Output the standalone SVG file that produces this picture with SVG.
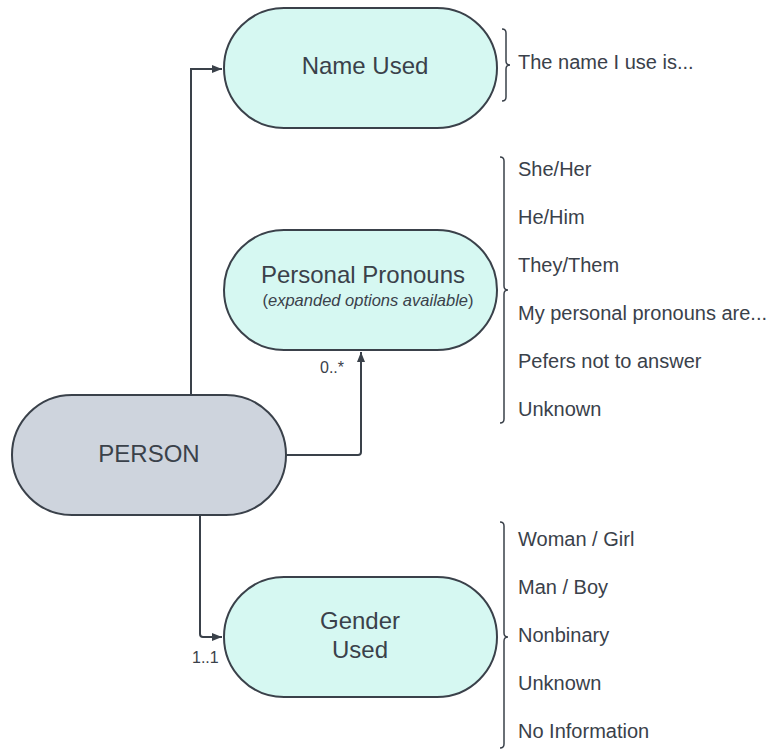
<svg xmlns="http://www.w3.org/2000/svg" width="767" height="751" viewBox="0 0 767 751">
<style>
.node{stroke:#3a414a;stroke-width:2}
.teal{fill:#d6f8f2}
.grey{fill:#ced4dd}
.t{font-family:"Liberation Sans",Arial,sans-serif;fill:#3a414a}
.big{font-size:24px;text-anchor:middle}
.item{font-size:20px}
.lbl{font-size:16px}
.conn{fill:none;stroke:#3a414a;stroke-width:2}
.brace{fill:none;stroke:#3a414a;stroke-width:1.5}
</style>
<defs>
<marker id="arr" viewBox="0 0 10 10" refX="10" refY="5" markerWidth="10" markerHeight="10" markerUnits="userSpaceOnUse" orient="auto">
<path d="M0,1 L10,5 L0,9 Z" fill="#3a414a"/>
</marker>
</defs>
<rect width="767" height="751" fill="#ffffff"/>
<g id="connectors">
<path class="conn" d="M191,395 V69 H222" marker-end="url(#arr)"/>
<path class="conn" d="M286,455 H358 Q361,455 361,452 V352" marker-end="url(#arr)"/>
<path class="conn" d="M200,515 V634 Q200,637 203,637 H222" marker-end="url(#arr)"/>
<text class="t lbl" x="320" y="373">0..*</text>
<text class="t lbl" x="192" y="663">1..1</text>
</g>
<g id="person">
<rect class="node grey" x="12" y="395" width="274" height="120" rx="60"/>
<text class="t big" x="149" y="462">PERSON</text>
</g>
<g id="name-used">
<rect class="node teal" x="224" y="8" width="273" height="120" rx="60"/>
<text class="t big" x="365" y="74">Name Used</text>
</g>
<g id="personal-pronouns">
<rect class="node teal" x="224" y="230" width="273" height="120" rx="60"/>
<text class="t big" x="363" y="283">Personal Pronouns</text>
<text class="t" x="368" y="306" font-size="16.5" text-anchor="middle">(<tspan font-style="italic">expanded options available</tspan>)</text>
</g>
<g id="gender-used">
<rect class="node teal" x="224" y="577" width="273" height="120" rx="60"/>
<text class="t big" x="360" y="629">Gender</text>
<text class="t big" x="360" y="658">Used</text>
</g>
<g id="name-options">
<path class="brace" d="M502,29 Q506,29 506,33 V61 Q506,65 510,65 Q506,65 506,69 V97 Q506,101 502,101"/>
<text class="t item" x="518" y="69">The name I use is...</text>
</g>
<g id="pronoun-options">
<path class="brace" d="M500,157 Q504,157 504,161 V286 Q504,290 508,290 Q504,290 504,294 V419 Q504,423 500,423"/>
<text class="t item" x="518" y="176">She/Her</text>
<text class="t item" x="518" y="224">He/Him</text>
<text class="t item" x="518" y="272">They/Them</text>
<text class="t item" x="518" y="320">My personal pronouns are...</text>
<text class="t item" x="518" y="368">Pefers not to answer</text>
<text class="t item" x="518" y="416">Unknown</text>
</g>
<g id="gender-options">
<path class="brace" d="M500,522 Q504,522 504,526 V633 Q504,637 508,637 Q504,637 504,641 V744 Q504,748 500,748"/>
<text class="t item" x="518" y="546">Woman / Girl</text>
<text class="t item" x="518" y="594">Man / Boy</text>
<text class="t item" x="518" y="642">Nonbinary</text>
<text class="t item" x="518" y="690">Unknown</text>
<text class="t item" x="518" y="738">No Information</text>
</g>
</svg>
